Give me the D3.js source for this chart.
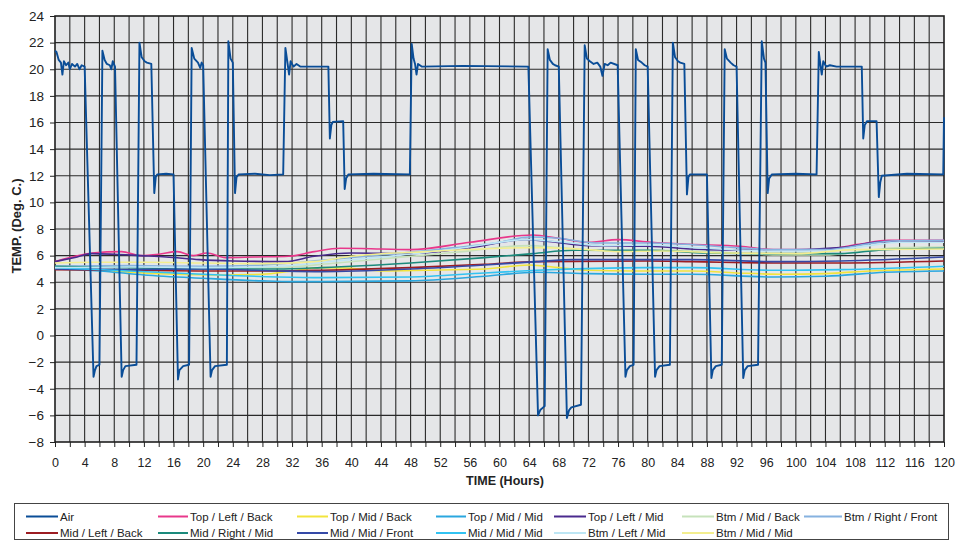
<!DOCTYPE html>
<html>
<head>
<meta charset="utf-8">
<script src="https://cdn.jsdelivr.net/npm/d3@7"></script>
<style>
  body { margin: 0; background: #fff; }
  svg text { font-family: "Liberation Sans", Arial, sans-serif; fill: #222; }
</style>
</head>
<body>
<div id="chart"></div>
<script>
'use strict';

// hours, temperature pairs
var air = [
    [0, 21.4], [0.2, 21.3], [0.5, 20.7], [0.8, 20.5], [1.0, 19.6], [1.2, 20.6], [1.5, 20.3], [1.8, 20.5],
    [2.0, 20.0], [2.3, 20.4], [2.7, 20.2], [3.0, 20.4], [3.3, 20.0], [3.6, 20.3], [4.0, 20.2],
    [5.2, -3.1], [5.4, -2.6], [5.6, -2.3], [6.0, -2.2],
    [6.4, 21.4], [6.7, 20.7], [7.0, 20.4], [7.4, 20.3], [7.6, 20.0], [7.8, 20.6], [8.1, 20.2],
    [9.0, -3.1], [9.2, -2.6], [9.5, -2.3], [11.0, -2.2],
    [11.4, 22.0], [11.7, 20.9], [12.1, 20.6], [12.4, 20.5], [13.0, 20.4],
    [13.4, 10.7], [13.6, 11.9], [13.8, 12.1], [15.0, 12.15], [16.0, 12.1],
    [16.6, -3.3], [16.8, -2.6], [17.3, -2.3], [18.1, -2.2],
    [18.45, 21.6], [18.8, 20.8], [19.3, 20.5], [19.6, 20.1], [19.8, 20.5], [20.0, 20.3],
    [21.0, -3.1], [21.2, -2.6], [21.6, -2.3], [23.2, -2.2],
    [23.4, 22.1], [23.7, 20.8], [24.0, 20.5],
    [24.3, 10.7], [24.5, 11.9], [24.8, 12.1], [27.0, 12.15], [29.0, 12.05], [30.8, 12.1],
    [31.1, 21.6], [31.4, 20.4], [31.6, 19.6], [31.8, 20.6], [32.2, 20.2], [32.6, 20.4], [33.1, 20.2], [36.9, 20.2],
    [37.1, 14.8], [37.3, 15.8], [37.5, 16.05], [38.9, 16.1],
    [39.1, 11.0], [39.3, 11.8], [39.6, 12.1], [43.0, 12.15], [47.9, 12.1],
    [48.15, 21.9], [48.4, 20.8], [48.6, 20.4], [48.8, 19.6], [49.0, 20.4], [49.5, 20.2], [55.0, 20.25], [63.9, 20.2],
    [65.2, -6.0], [65.5, -5.6], [65.9, -5.4], [66.1, -5.3],
    [66.5, 21.5], [66.8, 20.7], [67.2, 20.4], [67.5, 20.3], [68.0, 20.2],
    [69.1, -6.2], [69.4, -5.6], [69.7, -5.4], [71.0, -5.2],
    [71.5, 21.8], [71.8, 20.8], [72.2, 20.6], [72.7, 20.4], [73.2, 20.5], [73.6, 20.2], [73.9, 19.5],
    [74.2, 20.4], [74.6, 20.3], [75.0, 20.5], [75.95, 20.3],
    [77.0, -3.1], [77.2, -2.6], [77.6, -2.3], [78.1, -2.2],
    [78.4, 21.5], [78.7, 20.7], [79.2, 20.5], [79.6, 20.3], [80.0, 20.2],
    [81.0, -3.1], [81.2, -2.6], [81.6, -2.3], [83.0, -2.2],
    [83.4, 22.0], [83.7, 20.9], [84.1, 20.6], [84.4, 20.5], [84.95, 20.4],
    [85.3, 10.6], [85.5, 11.9], [85.7, 12.1], [88.0, 12.1],
    [88.6, -3.2], [88.8, -2.6], [89.2, -2.3], [90.0, -2.2],
    [90.4, 21.5], [90.7, 20.8], [91.2, 20.5], [91.6, 20.3], [92.0, 20.2],
    [92.9, -3.2], [93.1, -2.6], [93.5, -2.3], [94.9, -2.2],
    [95.4, 22.1], [95.7, 20.8], [95.9, 20.5],
    [96.2, 10.7], [96.4, 11.8], [96.75, 12.1], [100.0, 12.15], [102.8, 12.1],
    [103.1, 21.3], [103.3, 20.4], [103.5, 19.6], [103.7, 20.6], [104.1, 20.2], [104.6, 20.3], [105.5, 20.2], [108.9, 20.2],
    [109.1, 14.8], [109.3, 15.8], [109.6, 16.1], [110.9, 16.1],
    [111.2, 10.4], [111.4, 11.5], [111.6, 12.0], [115.0, 12.15], [119.9, 12.1], [120, 16.4]
];

var topLeftBack = [[0, 5.55], [2, 5.85], [5, 6.2], [9, 6.3], [11.5, 6.0], [14, 6.1], [16.5, 6.3], [18.7, 6.0],
    [20.5, 6.2], [23, 5.85], [27, 5.9], [31.5, 5.95], [35, 6.3], [38.5, 6.55], [44, 6.5], [48, 6.45], [56, 7.0],
    [64.5, 7.55], [68, 7.3], [72, 7.0], [76, 7.2], [80.5, 7.0], [85.7, 6.85], [92.5, 6.7], [97, 6.45],
    [103.5, 6.45], [108.5, 6.85], [112.5, 7.15], [120, 7.15]];
var topMidBack = [[0, 5.1], [4, 5.0], [8, 4.85], [12, 4.7], [16, 4.6], [22, 4.55], [28, 4.6], [32, 4.85],
    [36, 5.1], [40, 5.05], [44, 4.85], [50, 4.9], [58, 5.0], [64, 5.3], [68, 5.1], [72, 4.9], [78, 4.85],
    [86, 4.85], [92, 4.7], [98, 4.6], [104, 4.65], [110, 4.85], [120, 5.0]];
var topMidMid = [[0, 5.0], [6, 4.85], [12, 4.55], [20, 4.3], [28, 4.1], [32, 4.05], [36, 4.05], [48, 4.1],
    [58, 4.45], [65, 4.75], [72, 4.65], [80, 4.6], [86, 4.6], [97, 4.4], [104, 4.45], [112, 4.75], [120, 4.85]];
var topLeftMid = [[0, 5.55], [3, 5.9], [5, 6.15], [8, 6.1], [11.5, 6.0], [15, 5.9], [19.5, 5.7], [24, 5.6],
    [31, 5.55], [35, 5.95], [40, 6.2], [48, 6.15], [56, 6.6], [63.5, 7.2], [67, 7.05], [72, 6.75], [80, 6.7],
    [88, 6.45], [97, 6.4], [106, 6.6], [112, 7.05], [120, 7.05]];
var btmMidBack = [[0, 5.1], [10, 5.1], [20, 5.05], [30, 5.1], [38, 5.45], [46, 5.85], [54, 6.25], [64, 6.75],
    [68, 6.6], [74, 6.35], [82, 6.4], [90, 6.25], [98, 6.05], [104, 6.05], [110, 6.4], [114, 6.6], [120, 6.65]];
var btmRightFront = [[0, 5.2], [10, 5.25], [20, 5.2], [28, 5.3], [36, 5.65], [45, 6.1], [54, 6.6], [60, 7.0],
    [64, 7.4], [68, 7.3], [73, 6.95], [80, 6.95], [85, 6.85], [92, 6.6], [97, 6.45], [104, 6.45], [110, 6.9],
    [113, 7.1], [120, 7.15]];
var midLeftBack = [[0, 4.95], [10, 4.9], [20, 4.85], [30, 4.85], [36, 4.9], [48, 5.1], [58, 5.35], [65, 5.55],
    [80, 5.6], [86, 5.55], [97, 5.45], [106, 5.45], [120, 5.6]];
var midRightMid = [[0, 5.2], [10, 5.1], [20, 5.0], [30, 5.0], [36, 5.1], [48, 5.45], [58, 5.85], [64.5, 6.15],
    [70, 6.4], [80, 6.4], [88, 6.2], [97, 6.15], [106, 6.15], [112, 6.45], [120, 6.55]];
var midMidFront = [[0, 5.0], [10, 4.95], [20, 5.0], [30, 4.85], [36, 4.8], [48, 5.0], [58, 5.3], [65, 5.55],
    [70, 5.7], [80, 5.7], [86, 5.7], [97, 5.55], [106, 5.6], [120, 5.9]];
var midMidMid = [[0, 5.1], [10, 4.85], [20, 4.6], [30, 4.4], [36, 4.35], [48, 4.4], [58, 4.7], [65, 4.9],
    [80, 5.1], [86, 5.1], [97, 4.9], [106, 4.95], [120, 5.2]];
var btmLeftMid = [[0, 5.1], [10, 5.15], [20, 5.1], [30, 5.2], [38, 5.6], [46, 6.0], [54, 6.5], [64, 7.2],
    [68, 7.05], [74, 6.75], [80, 6.8], [88, 6.55], [96, 6.35], [104, 6.35], [110, 6.75], [114, 7.0], [120, 7.0]];
var btmMidMid = [[0, 5.45], [5, 5.5], [12, 5.5], [20, 5.45], [28, 5.4], [35, 5.55], [40, 5.95], [50, 6.3],
    [64.5, 6.6], [72, 6.45], [76, 6.3], [82, 6.35], [90, 6.2], [100, 6.15], [108, 6.45], [120, 6.5]];

var xTicks = d3.range(0, 121, 4);
var yTicks = d3.range(-8, 25, 2);

var series = [
    { name: 'Air', data: air, color: '#0a4d97' },
    { name: 'Top / Left / Back', data: topLeftBack, color: '#e8388b' },
    { name: 'Top / Mid / Back', data: topMidBack, color: '#f2e43c' },
    { name: 'Top / Mid / Mid', data: topMidMid, color: '#2aa7df' },
    { name: 'Top / Left / Mid', data: topLeftMid, color: '#4a2a8e' },
    { name: 'Btm / Mid / Back', data: btmMidBack, color: '#c6e2bb' },
    { name: 'Btm / Right / Front', data: btmRightFront, color: '#86b2e0' },
    { name: 'Mid / Left / Back', data: midLeftBack, color: '#9c1c22' },
    { name: 'Mid / Right / Mid', data: midRightMid, color: '#1b8a7c' },
    { name: 'Mid / Mid / Front', data: midMidFront, color: '#3549a7' },
    { name: 'Mid / Mid / Mid', data: midMidMid, color: '#32c3f2' },
    { name: 'Btm / Left / Mid', data: btmLeftMid, color: '#bde6f4' },
    { name: 'Btm / Mid / Mid', data: btmMidMid, color: '#f3ee8f' }
];

var width = 971,
    height = 541,
    plotLeft = 55,
    plotRight = 944,
    plotTop = 16,
    plotBottom = 442;

var x = d3.scaleLinear().domain([0, 120]).range([plotLeft, plotRight]);
var y = d3.scaleLinear().domain([-8, 24]).range([plotBottom, plotTop]);

var svg = d3.select('#chart').append('svg')
    .attr('width', width)
    .attr('height', height);

svg.append('rect')
    .attr('x', plotLeft).attr('y', plotTop)
    .attr('width', plotRight - plotLeft).attr('height', plotBottom - plotTop)
    .attr('fill', '#e5e6e8');

// grid: every 2 hours, every 2 degrees
var grid = svg.append('g').attr('class', 'grid');
grid.selectAll('line.v').data(d3.range(2, 120, 2)).enter().append('line')
    .attr('class', 'v')
    .attr('x1', function (d) { return x(d); }).attr('x2', function (d) { return x(d); })
    .attr('y1', plotTop).attr('y2', plotBottom)
    .attr('stroke', '#2a2a2a').attr('stroke-width', 1.1);
grid.selectAll('line.h').data(d3.range(-6, 24, 2)).enter().append('line')
    .attr('class', 'h')
    .attr('y1', function (d) { return y(d); }).attr('y2', function (d) { return y(d); })
    .attr('x1', plotLeft).attr('x2', plotRight)
    .attr('stroke', '#2a2a2a').attr('stroke-width', 1.1);

var xAxis = svg.append('g')
    .attr('transform', 'translate(0,' + plotBottom + ')')
    .call(d3.axisBottom(x).tickValues(d3.range(0, 121, 2)).tickSize(5).tickPadding(8)
        .tickFormat(function (d) { return xTicks.indexOf(d) >= 0 ? d : ''; }));
var yAxis = svg.append('g')
    .attr('transform', 'translate(' + plotLeft + ',0)')
    .call(d3.axisLeft(y).tickValues(yTicks).tickSize(5).tickPadding(6));

[xAxis, yAxis].forEach(function (g) {
    g.select('.domain').remove();
    g.selectAll('line').attr('stroke', '#222');
    g.selectAll('text').attr('fill', '#222')
        .style('font-family', '"Liberation Sans", Arial, sans-serif');
});
xAxis.selectAll('text').attr('font-size', 12.5).attr('dy', '0.95em');
yAxis.selectAll('text').attr('font-size', 13.5);

svg.append('rect')
    .attr('x', plotLeft).attr('y', plotTop)
    .attr('width', plotRight - plotLeft).attr('height', plotBottom - plotTop)
    .attr('fill', 'none').attr('stroke', '#1e1e1e').attr('stroke-width', 1.6);

var lineSmooth = d3.line()
    .x(function (d) { return x(d[0]); })
    .y(function (d) { return y(d[1]); })
    .curve(d3.curveMonotoneX);
var lineRaw = d3.line()
    .x(function (d) { return x(d[0]); })
    .y(function (d) { return y(d[1]); });

var plot = svg.append('g').attr('class', 'series');
series.slice(1).forEach(function (s) {
    plot.append('path')
        .attr('d', lineSmooth(s.data))
        .attr('fill', 'none')
        .attr('stroke', s.color)
        .attr('stroke-width', 1.6);
});
plot.append('path')
    .attr('d', lineRaw(series[0].data))
    .attr('fill', 'none')
    .attr('stroke', series[0].color)
    .attr('stroke-width', 1.9)
    .attr('stroke-linejoin', 'round');

svg.append('text')
    .attr('x', 505).attr('y', 485)
    .attr('text-anchor', 'middle')
    .attr('font-size', 12.5).attr('font-weight', 'bold')
    .text('TIME (Hours)');

svg.append('text')
    .attr('transform', 'translate(21,' + ((plotTop + plotBottom) / 2 - 3) + ') rotate(-90)')
    .attr('text-anchor', 'middle')
    .attr('font-size', 13).attr('font-weight', 'bold')
    .text('TEMP. (Deg. C.)');

// legend, two rows in the boxed strip at the bottom
svg.append('rect')
    .attr('x', 14.5).attr('y', 503.5)
    .attr('width', 934).attr('height', 36)
    .attr('fill', '#fff').attr('stroke', '#444').attr('stroke-width', 1);

var colLine = [26, 158, 297, 436, 554, 682, 804],
    colText = [60, 190, 330, 468, 588, 716, 844],
    rowY = [516.5, 533];

var legend = svg.append('g').attr('class', 'legend');
series.forEach(function (s, i) {
    var row = i < 7 ? 0 : 1,
        col = i < 7 ? i : i - 7;
    var item = legend.append('g');
    item.append('line')
        .attr('x1', colLine[col]).attr('x2', colText[col] - 2)
        .attr('y1', rowY[row]).attr('y2', rowY[row])
        .attr('stroke', s.color).attr('stroke-width', 2);
    item.append('text')
        .attr('x', colText[col]).attr('y', rowY[row])
        .attr('dy', '0.35em')
        .attr('font-size', 11.5)
        .text(s.name);
});
</script>
</body>
</html>
